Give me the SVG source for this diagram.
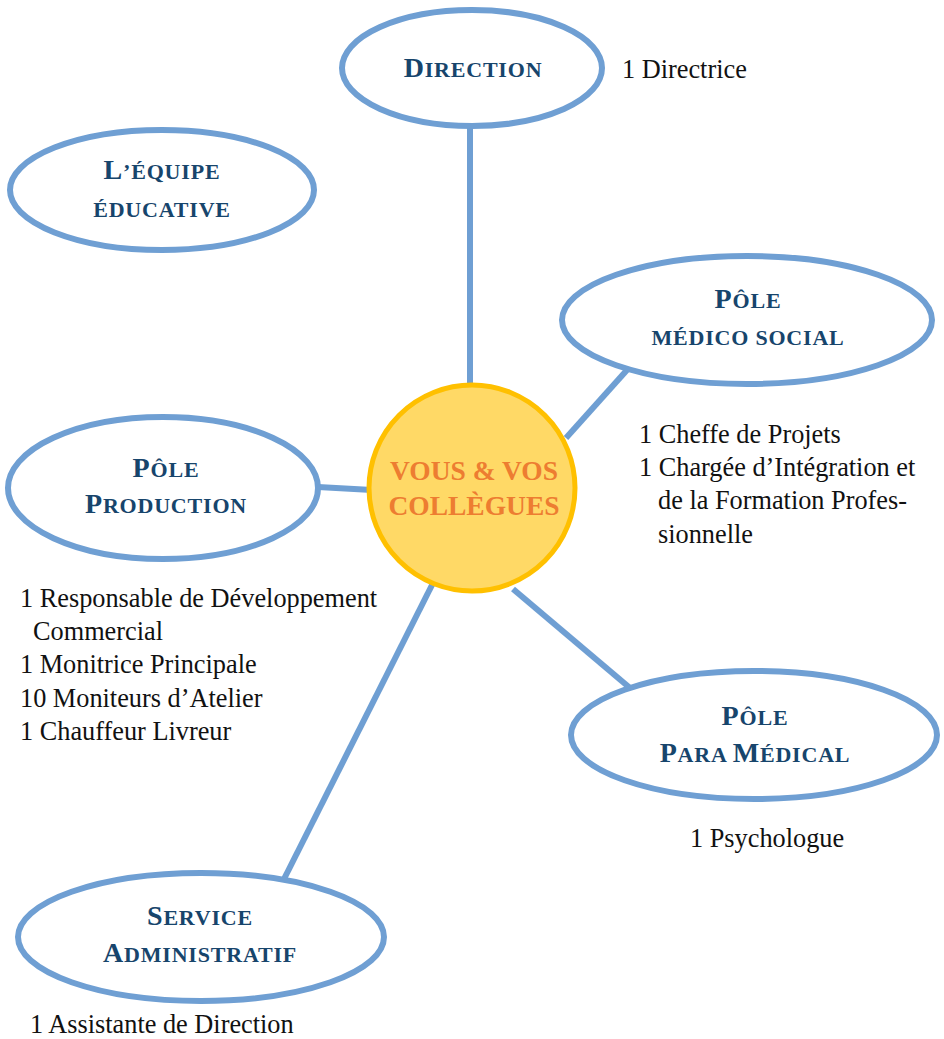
<svg xmlns="http://www.w3.org/2000/svg" width="944" height="1039" viewBox="0 0 944 1039">
<style>
.node{fill:#ffffff;stroke:#6F9FD3;stroke-width:6}
.center{fill:#FFD966;stroke:#FFC000;stroke-width:5}
.conn{stroke:#6F9FD3;stroke-width:6;fill:none}
.h{font-family:"Liberation Serif","DejaVu Serif",serif;font-weight:bold;fill:#17456C;text-anchor:middle;font-size:22px;letter-spacing:0.8px}
.big{font-size:28px}
.c{font-family:"Liberation Serif","DejaVu Serif",serif;font-weight:bold;fill:#ED7D31;text-anchor:middle;font-size:27.5px}
.t{font-family:"Liberation Serif","DejaVu Serif",serif;font-weight:normal;fill:#111111;font-size:26.3px}
</style>
<rect width="944" height="1039" fill="#ffffff"/>
<g id="connectors">
<line class="conn" x1="470" y1="128" x2="470" y2="386"/>
<line class="conn" x1="627" y1="370" x2="566" y2="438"/>
<line class="conn" x1="318" y1="487" x2="372" y2="490"/>
<line class="conn" x1="513" y1="589" x2="630" y2="688"/>
<line class="conn" x1="433" y1="583" x2="283" y2="881"/>
</g>
<g id="direction">
<ellipse class="node" cx="472" cy="68" rx="130" ry="58"/>
<text class="h" x="473" y="77"><tspan class="big">D</tspan>IRECTION</text>
<text class="t" x="622" y="78">1 Directrice</text>
</g>
<g id="equipe">
<ellipse class="node" cx="162" cy="190" rx="152" ry="60"/>
<text class="h" x="162" y="179"><tspan class="big">L</tspan>’ÉQUIPE</text>
<text class="h" x="162" y="217">ÉDUCATIVE</text>
</g>
<g id="medico">
<ellipse class="node" cx="747" cy="320" rx="185" ry="64"/>
<text class="h" x="748" y="308"><tspan class="big">P</tspan>ÔLE</text>
<text class="h" x="748" y="345">MÉDICO SOCIAL</text>
<text class="t" x="639" y="443">1 Cheffe de Projets</text>
<text class="t" x="639" y="476">1 Chargée d’Intégration et</text>
<text class="t" x="658" y="509">de la Formation Profes-</text>
<text class="t" x="658" y="543">sionnelle</text>
</g>
<g id="production">
<ellipse class="node" cx="163" cy="488" rx="155" ry="71"/>
<text class="h" x="166" y="477"><tspan class="big">P</tspan>ÔLE</text>
<text class="h" x="166" y="513"><tspan class="big">P</tspan>RODUCTION</text>
<text class="t" x="20" y="607">1 Responsable de Développement</text>
<text class="t" x="33" y="640">Commercial</text>
<text class="t" x="20" y="673">1 Monitrice Principale</text>
<text class="t" x="20" y="707">10 Moniteurs d’Atelier</text>
<text class="t" x="20" y="740">1 Chauffeur Livreur</text>
</g>
<g id="para">
<ellipse class="node" cx="754" cy="735" rx="183" ry="64"/>
<text class="h" x="755" y="725"><tspan class="big">P</tspan>ÔLE</text>
<text class="h" x="755" y="762"><tspan class="big">P</tspan>ARA <tspan class="big">M</tspan>ÉDICAL</text>
<text class="t" x="690" y="847">1 Psychologue</text>
</g>
<g id="admin">
<ellipse class="node" cx="201" cy="937" rx="183" ry="64"/>
<text class="h" x="200" y="925"><tspan class="big">S</tspan>ERVICE</text>
<text class="h" x="200" y="962"><tspan class="big">A</tspan>DMINISTRATIF</text>
<text class="t" x="30" y="1033">1 Assistante de Direction</text>
</g>
<g id="vous">
<circle class="center" cx="472" cy="488" r="103"/>
<text class="c" x="474" y="480">VOUS &amp; VOS</text>
<text class="c" x="474" y="515">COLLÈGUES</text>
</g>
</svg>
